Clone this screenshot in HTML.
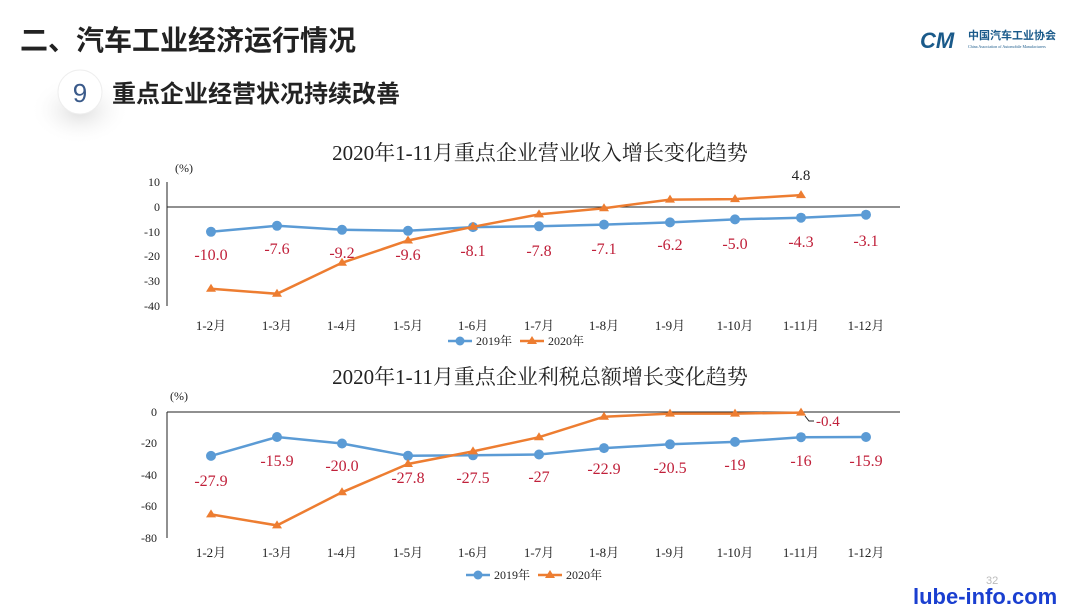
<!DOCTYPE html>
<html><head><meta charset="utf-8"><style>
body{margin:0;width:1080px;height:608px;background:#fff;overflow:hidden;font-family:"Liberation Sans","Noto Sans CJK SC",sans-serif;}
</style></head><body>
<svg width="1080" height="608" xmlns="http://www.w3.org/2000/svg" font-family="'Liberation Serif','Noto Serif CJK SC',serif">
<defs><radialGradient id="g" cx="0.5" cy="0.5" r="0.5"><stop offset="0" stop-color="#ddd"/><stop offset="1" stop-color="#fff" stop-opacity="0"/></radialGradient></defs>
<text x="20" y="50" font-family="'Noto Sans CJK SC',sans-serif" font-size="28" font-weight="bold" fill="#222">二、汽车工业经济运行情况</text>
<text x="920" y="48" font-family="'Liberation Sans',sans-serif" font-size="22" font-weight="bold" font-style="italic" fill="#1a5a8a">CM</text>
<text x="968" y="39" font-family="'Noto Sans CJK SC',sans-serif" font-size="11" font-weight="bold" fill="#1a5a8a">中国汽车工业协会</text>
<text x="968" y="48" font-size="4" fill="#1a5a8a">China Association of Automobile Manufacturers</text>
<ellipse cx="80" cy="110" rx="50" ry="35" fill="url(#g)"/>
<circle cx="80" cy="92" r="22" fill="#fff" stroke="#eee"/>
<text x="80" y="102" text-anchor="middle" font-family="'Liberation Sans',sans-serif" font-size="26" fill="#3a5a8a">9</text>
<text x="112" y="102" font-family="'Noto Sans CJK SC',sans-serif" font-size="24" font-weight="bold" fill="#222">重点企业经营状况持续改善</text>

<!-- chart 1 -->
<text x="540" y="160" text-anchor="middle" font-size="21" fill="#222">2020年1-11月重点企业营业收入增长变化趋势</text>
<text x="175" y="172" font-size="12" fill="#222">(%)</text>
<g font-size="12" fill="#222" text-anchor="end">
<text x="160" y="186">10</text><text x="160" y="211">0</text><text x="160" y="236">-10</text><text x="160" y="260">-20</text><text x="160" y="285">-30</text><text x="160" y="310">-40</text></g>
<line x1="167" y1="182" x2="167" y2="306" stroke="#222"/>
<line x1="167" y1="207" x2="900" y2="207" stroke="#222"/>
<g font-size="13" fill="#222" text-anchor="middle">
<text x="211" y="330">1-2月</text><text x="277" y="330">1-3月</text><text x="342" y="330">1-4月</text><text x="408" y="330">1-5月</text><text x="473" y="330">1-6月</text><text x="539" y="330">1-7月</text><text x="604" y="330">1-8月</text><text x="670" y="330">1-9月</text><text x="735" y="330">1-10月</text><text x="801" y="330">1-11月</text><text x="866" y="330">1-12月</text></g>
<polyline fill="none" stroke="#5b9bd5" stroke-width="2.5" points="211,231.8 277,225.8 342,229.8 408,230.8 473,227.1 539,226.3 604,224.6 670,222.4 735,219.4 801,217.7 866,214.7"/>
<g fill="#5b9bd5"><circle cx="211" cy="231.8" r="5"/><circle cx="277" cy="225.8" r="5"/><circle cx="342" cy="229.8" r="5"/><circle cx="408" cy="230.8" r="5"/><circle cx="473" cy="227.1" r="5"/><circle cx="539" cy="226.3" r="5"/><circle cx="604" cy="224.6" r="5"/><circle cx="670" cy="222.4" r="5"/><circle cx="735" cy="219.4" r="5"/><circle cx="801" cy="217.7" r="5"/><circle cx="866" cy="214.7" r="5"/></g>
<polyline fill="none" stroke="#ed7d31" stroke-width="2.5" points="211,288.8 277,293.8 342,262.8 408,240.5 473,226.8 539,214.4 604,208.2 670,199.6 735,199.1 801,195.1"/>
<g fill="#ed7d31">
<path d="M211,283.8l5,8h-10z"/><path d="M277,288.8l5,8h-10z"/><path d="M342,257.8l5,8h-10z"/><path d="M408,235.5l5,8h-10z"/><path d="M473,221.8l5,8h-10z"/><path d="M539,209.4l5,8h-10z"/><path d="M604,203.2l5,8h-10z"/><path d="M670,194.6l5,8h-10z"/><path d="M735,194.1l5,8h-10z"/><path d="M801,190.1l5,8h-10z"/></g>
<text x="801" y="180" text-anchor="middle" font-size="15" fill="#222">4.8</text>
<g font-size="16" fill="#c0203a" text-anchor="middle">
<text x="211" y="260">-10.0</text><text x="277" y="254">-7.6</text><text x="342" y="258">-9.2</text><text x="408" y="260">-9.6</text><text x="473" y="256">-8.1</text><text x="539" y="256">-7.8</text><text x="604" y="254">-7.1</text><text x="670" y="250">-6.2</text><text x="735" y="249">-5.0</text><text x="801" y="247">-4.3</text><text x="866" y="246">-3.1</text></g>
<g font-size="12" fill="#222">
<line x1="448" y1="341" x2="472" y2="341" stroke="#5b9bd5" stroke-width="2.5"/><circle cx="460" cy="341" r="4.5" fill="#5b9bd5"/><text x="476" y="345">2019年</text>
<line x1="520" y1="341" x2="544" y2="341" stroke="#ed7d31" stroke-width="2.5"/><path d="M532,336l5,8h-10z" fill="#ed7d31"/><text x="548" y="345">2020年</text></g>

<!-- chart 2 -->
<text x="540" y="384" text-anchor="middle" font-size="21" fill="#222">2020年1-11月重点企业利税总额增长变化趋势</text>
<text x="170" y="400" font-size="12" fill="#222">(%)</text>
<g font-size="12" fill="#222" text-anchor="end">
<text x="157" y="416">0</text><text x="157" y="447">-20</text><text x="157" y="479">-40</text><text x="157" y="510">-60</text><text x="157" y="542">-80</text></g>
<line x1="167" y1="412" x2="167" y2="538" stroke="#222"/>
<line x1="167" y1="412" x2="900" y2="412" stroke="#222"/>
<g font-size="13" fill="#222" text-anchor="middle">
<text x="211" y="557">1-2月</text><text x="277" y="557">1-3月</text><text x="342" y="557">1-4月</text><text x="408" y="557">1-5月</text><text x="473" y="557">1-6月</text><text x="539" y="557">1-7月</text><text x="604" y="557">1-8月</text><text x="670" y="557">1-9月</text><text x="735" y="557">1-10月</text><text x="801" y="557">1-11月</text><text x="866" y="557">1-12月</text></g>
<polyline fill="none" stroke="#5b9bd5" stroke-width="2.5" points="211,455.9 277,437 342,443.5 408,455.8 473,455.3 539,454.5 604,448.1 670,444.3 735,441.9 801,437.2 866,437"/>
<g fill="#5b9bd5"><circle cx="211" cy="455.9" r="5"/><circle cx="277" cy="437" r="5"/><circle cx="342" cy="443.5" r="5"/><circle cx="408" cy="455.8" r="5"/><circle cx="473" cy="455.3" r="5"/><circle cx="539" cy="454.5" r="5"/><circle cx="604" cy="448.1" r="5"/><circle cx="670" cy="444.3" r="5"/><circle cx="735" cy="441.9" r="5"/><circle cx="801" cy="437.2" r="5"/><circle cx="866" cy="437" r="5"/></g>
<polyline fill="none" stroke="#ed7d31" stroke-width="2.5" points="211,514.4 277,525.4 342,492.3 408,464 473,451.4 539,437.2 604,416.7 670,413.6 735,413.6 801,412.6"/>
<g fill="#ed7d31">
<path d="M211,509.4l5,8h-10z"/><path d="M277,520.4l5,8h-10z"/><path d="M342,487.3l5,8h-10z"/><path d="M408,459l5,8h-10z"/><path d="M473,446.4l5,8h-10z"/><path d="M539,432.2l5,8h-10z"/><path d="M604,411.7l5,8h-10z"/><path d="M670,408.6l5,8h-10z"/><path d="M735,408.6l5,8h-10z"/><path d="M801,407.6l5,8h-10z"/></g>
<path d="M805,416 l4,5 h5" fill="none" stroke="#222"/>
<text x="816" y="426" font-size="15" fill="#c0203a">-0.4</text>
<g font-size="16" fill="#c0203a" text-anchor="middle">
<text x="211" y="486">-27.9</text><text x="277" y="466">-15.9</text><text x="342" y="471">-20.0</text><text x="408" y="483">-27.8</text><text x="473" y="483">-27.5</text><text x="539" y="482">-27</text><text x="604" y="474">-22.9</text><text x="670" y="473">-20.5</text><text x="735" y="470">-19</text><text x="801" y="466">-16</text><text x="866" y="466">-15.9</text></g>
<g font-size="12" fill="#222">
<line x1="466" y1="575" x2="490" y2="575" stroke="#5b9bd5" stroke-width="2.5"/><circle cx="478" cy="575" r="4.5" fill="#5b9bd5"/><text x="494" y="579">2019年</text>
<line x1="538" y1="575" x2="562" y2="575" stroke="#ed7d31" stroke-width="2.5"/><path d="M550,570l5,8h-10z" fill="#ed7d31"/><text x="566" y="579">2020年</text></g>
<text x="986" y="584" font-family="'Liberation Sans',sans-serif" font-size="11" fill="#bbb">32</text>
<text x="913" y="604" font-family="'Liberation Sans',sans-serif" font-size="22" font-weight="bold" fill="#1a3fd0">lube-info.com</text>
</svg>
</body></html>
